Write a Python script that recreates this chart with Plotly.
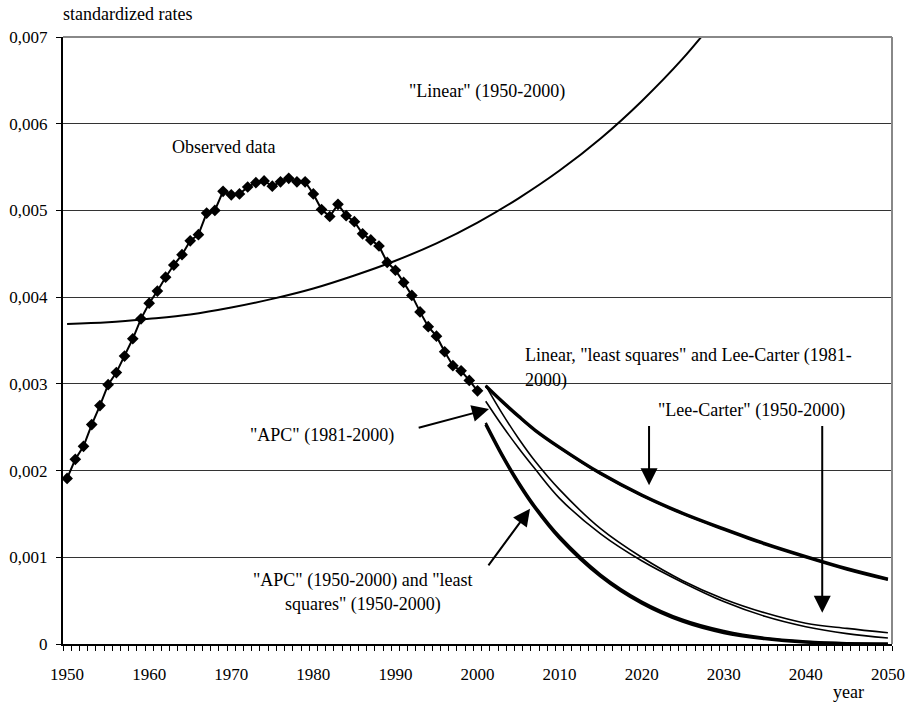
import plotly.graph_objects as go

# observed standardized rates 1950-2000
obs_years = list(range(1950, 2001))
obs_rates = [
    0.00191, 0.00213, 0.00228, 0.00253, 0.00275, 0.00299, 0.00313, 0.00332, 0.00352, 0.00375,
    0.00393, 0.00407, 0.00423, 0.00437, 0.00449, 0.00465, 0.00472, 0.00497, 0.00500, 0.00522,
    0.00518, 0.00519, 0.00527, 0.00532, 0.00534, 0.00528, 0.00533, 0.00537, 0.00533, 0.00533,
    0.00519, 0.00501, 0.00493, 0.00507, 0.00494, 0.00487, 0.00473, 0.00466, 0.00459, 0.00440,
    0.00431, 0.00417, 0.00402, 0.00383, 0.00366, 0.00355, 0.00337, 0.00321, 0.00315, 0.00304,
    0.00292,
]

# "Linear" (1950-2000) fit, runs off the top
linear_years = [1950, 1955, 1960, 1965, 1970, 1975, 1980, 1985, 1990, 1995,
                2000, 2005, 2010, 2015, 2020, 2025, 2030]
linear_rates = [0.00369, 0.00371, 0.00375, 0.00380, 0.00388, 0.00398, 0.00410, 0.00425, 0.00442, 0.00462,
                0.00486, 0.00514, 0.00546, 0.00583, 0.00626, 0.00675, 0.00732]

# projections 2001-2050
proj_years = [2001, 2003, 2005, 2007, 2010, 2015, 2020, 2025, 2030, 2035, 2040, 2045, 2050]
lin_ls_lc_1981 = [0.00298, 0.00280, 0.00263, 0.00247, 0.00227, 0.00197, 0.00172, 0.00151, 0.00133, 0.00116, 0.00101, 0.00087, 0.00075]
lc_1981_b = [0.00297, 0.00279, 0.00262, 0.00246, 0.00226, 0.00196, 0.00171, 0.00150, 0.00132, 0.00115, 0.00100, 0.00086, 0.00074]
lc_1950 = [0.00298, 0.00266, 0.00237, 0.00211, 0.00178, 0.00133, 0.00100, 0.00073, 0.00052, 0.00036, 0.00024, 0.00018, 0.00013]
apc_1981 = [0.00280, 0.00252, 0.00226, 0.00202, 0.00168, 0.00127, 0.00096, 0.00071, 0.00049, 0.00032, 0.00020, 0.00012, 0.00007]
apc_1950 = [0.00253, 0.00217, 0.00185, 0.00157, 0.00122, 0.00078, 0.00047, 0.00026, 0.00013, 0.00006, 0.00002, 0.000005, 0.0]
ls_1950 = [0.00255, 0.00219, 0.00187, 0.00159, 0.00124, 0.00080, 0.00049, 0.00028, 0.00015, 0.00007, 0.00003, 0.00001, 0.000003]

y_tickvals = [0, 0.001, 0.002, 0.003, 0.004, 0.005, 0.006, 0.007]
y_ticktext = ["0", "0,001", "0,002", "0,003", "0,004", "0,005", "0,006", "0,007"]
x_tickvals = list(range(1950, 2051, 10))

FONT = "Liberation Serif"
TXT = 18

fig = go.Figure()

fig.add_trace(go.Scatter(x=linear_years, y=linear_rates, mode="lines",
                         line=dict(color="black", width=2, shape="spline")))
fig.add_trace(go.Scatter(x=obs_years, y=obs_rates, mode="lines+markers",
                         line=dict(color="black", width=2),
                         marker=dict(symbol="diamond", size=9, color="black")))

# projection curves
for vals, w in [(lin_ls_lc_1981, 3), (lc_1981_b, 2.5), (lc_1950, 1.6),
                (apc_1981, 1.6), (apc_1950, 3), (ls_1950, 2.5)]:
    fig.add_trace(go.Scatter(x=proj_years, y=vals, mode="lines",
                             line=dict(color="black", width=w, shape="spline")))

# arrows (tail -> tip)
arrows = [
    ((1992.65, 0.00249), (2001.4, 0.00271)),
    ((2001.2, 0.00089), (2006.4, 0.00156)),
    ((2020.9, 0.00253), (2020.9, 0.00183)),
    ((2042.0, 0.00253), (2042.0, 0.00036)),
]
for (ax, ay), (x, y) in arrows:
    fig.add_annotation(x=x, y=y, ax=ax, ay=ay, xref="x", yref="y", axref="x", ayref="y",
                       text="", showarrow=True, arrowhead=2, arrowsize=1.7,
                       arrowwidth=2, arrowcolor="black")

labels = [
    (1969.0, 0.00573, "Observed data", "center"),
    (2001.2, 0.00637, "\"Linear\" (1950-2000)", "center"),
    (2005.6, 0.00333, "Linear, \"least squares\" and Lee-Carter (1981-", "left"),
    (2005.6, 0.00304, "2000)", "left"),
    (2033.4, 0.00269, "\"Lee-Carter\" (1950-2000)", "center"),
    (1981.1, 0.00240, "\"APC\" (1981-2000)", "center"),
    (1986.0, 0.00073, "\"APC\" (1950-2000) and \"least", "center"),
    (1986.0, 0.00046, "squares\" (1950-2000)", "center"),
]
for x, y, t, anchor in labels:
    fig.add_annotation(x=x, y=y, xref="x", yref="y", text=t, showarrow=False,
                       xanchor=anchor, yanchor="middle", font=dict(size=TXT, color="black"))

fig.add_annotation(x=-0.003, y=1.038, xref="paper", yref="paper", text="standardized rates",
                   showarrow=False, xanchor="left", yanchor="middle",
                   font=dict(size=TXT, color="black"))
fig.add_annotation(x=0.947, y=-0.079, xref="paper", yref="paper", text="year",
                   showarrow=False, xanchor="center", yanchor="middle",
                   font=dict(size=TXT, color="black"))

# gray frame on top and right
fig.add_shape(type="line", xref="paper", yref="paper", x0=0, x1=1, y0=1, y1=1,
              line=dict(color="#888888", width=2))
fig.add_shape(type="line", xref="paper", yref="paper", x0=1, x1=1, y0=0, y1=1,
              line=dict(color="#888888", width=2))

fig.update_layout(
    width=911, height=704,
    margin=dict(l=63, r=19, t=37, b=60),
    paper_bgcolor="white", plot_bgcolor="white",
    showlegend=False,
    font=dict(family=FONT, size=17, color="black"),
    xaxis=dict(
        range=[1949.5, 2050.5], tickvals=x_tickvals, ticks="",
        showgrid=False, zeroline=False, automargin=False,
        showline=True, linecolor="black", linewidth=2,
        ticklabelstandoff=14,
        minor=dict(tick0=1949.5, dtick=1, ticks="outside", ticklen=5,
                   tickcolor="black", tickwidth=1, showgrid=False),
    ),
    yaxis=dict(
        range=[0, 0.007], tickvals=y_tickvals, ticktext=y_ticktext,
        ticks="outside", ticklen=5, tickcolor="black",
        showgrid=True, gridcolor="#333333", gridwidth=1,
        zeroline=False, showline=True, linecolor="black", linewidth=2,
        ticklabelstandoff=5, automargin=False,
    ),
)

# drop the default 8px page margin so the figure fills the window
fig.write_html("out.html", config={"displayModeBar": False},
               post_script="document.body.style.margin='0';")
